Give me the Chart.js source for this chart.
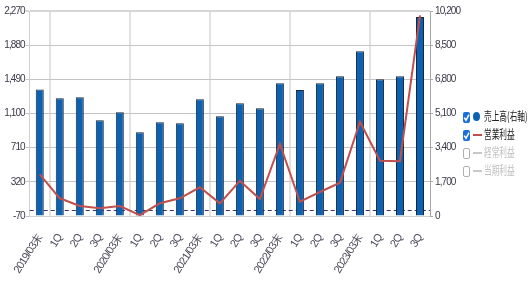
<!DOCTYPE html>
<html>
<head>
<meta charset="utf-8">
<script src="https://cdn.jsdelivr.net/npm/chart.js@4"></script>
<style>
  body { margin: 0; background: #fff; }
  #wrap { position: relative; width: 532px; height: 282px; }
  #legend { position: absolute; left: 463px; top: 111px; font-family: 'Noto Sans CJK JP', sans-serif; }
  .row { position: relative; height: 18px; }
  .box { position: absolute; left: 0; top: 1px; width: 7px; height: 11px; border-radius: 2px; box-sizing: border-box; }
  .on { background: #1a6fd6; }
  .off { border: 1px solid #b0b0b0; background: #fff; }
  .mark { position: absolute; left: 10px; }
  .txt { position: absolute; left: 21px; top: -4px; font-size: 12px; white-space: nowrap; transform: scaleX(0.64); transform-origin: left center; }
</style>
</head>
<body>
<div id="wrap">
  <canvas id="chart" width="532" height="282"></canvas>
  <div id="legend"></div>
</div>
<script>
const categories = ['2019/03末', '1Q', '2Q', '3Q', '2020/03末', '1Q', '2Q', '3Q', '2021/03末', '1Q', '2Q', '3Q',
    '2022/03末', '1Q', '2Q', '3Q', '2023/03末', '1Q', '2Q', '3Q'];
const salesValues = [6300, 5860, 5910, 4760, 5160, 4170, 4660, 4610, 5810, 4960, 5610, 5360,
    6600, 6270, 6600, 6950, 8200, 6800, 6950, 9900];
const opProfitValues = [406, 132, 44, 18, 44, -60, 75, 132, 258, 75, 330, 124,
    752, 93, 204, 310, 1006, 561, 554, 2220];
const leftTicks = [-70, 320, 710, 1100, 1490, 1880, 2270];
const rightTicks = [0, 1700, 3400, 5100, 6800, 8500, 10200];
const legendItems = [
    { label: '売上高(右軸)', on: true, kind: 'dot', color: '#0b62b3' },
    { label: '営業利益', on: true, kind: 'line', color: '#c0504d' },
    { label: '経常利益', on: false, kind: 'line', color: '#c8c8c8' },
    { label: '当期利益', on: false, kind: 'line', color: '#c8c8c8' }
];

const tickFont = { family: "'Liberation Sans', sans-serif", size: 10 };
const catFont = { family: "'Liberation Sans', sans-serif", size: 11 };
const fmt = v => Number(v).toLocaleString('en-US');

// 目盛り文字を詰める（元画像は横に圧縮された文字）
const narrowText = {
    id: 'narrowText',
    beforeUpdate(chart) { chart.ctx.letterSpacing = '-0.9px'; },
    beforeDraw(chart) { chart.ctx.letterSpacing = '-0.9px'; }
};

// ゼロ位置の破線（左軸）
const zeroLine = {
    id: 'zeroLine',
    beforeDatasetsDraw(chart) {
        const { ctx, chartArea, scales: { y } } = chart;
        const py = Math.round(y.getPixelForValue(0)) + 0.5;
        ctx.save();
        ctx.strokeStyle = '#3b2f66';
        ctx.lineWidth = 1;
        ctx.setLineDash([4, 3]);
        ctx.beginPath();
        ctx.moveTo(chartArea.left, py);
        ctx.lineTo(chartArea.right, py);
        ctx.stroke();
        ctx.restore();
    }
};

new Chart(document.getElementById('chart'), {
    data: {
        labels: categories,
        datasets: [
            {
                type: 'line',
                label: '営業利益',
                data: opProfitValues,
                yAxisID: 'y',
                borderColor: '#c0504d',
                borderWidth: 2,
                pointRadius: 0,
                tension: 0,
                order: 0
            },
            {
                type: 'bar',
                label: '売上高(右軸)',
                data: salesValues,
                yAxisID: 'y1',
                backgroundColor: '#0b62b3',
                borderColor: '#1b2633',
                borderWidth: 1,
                barPercentage: 0.4,
                categoryPercentage: 1,
                order: 1
            }
        ]
    },
    options: {
        responsive: false,
        animation: false,
        layout: { padding: { left: 0, right: 70, top: 11, bottom: 0 } },
        plugins: { legend: { display: false }, tooltip: { enabled: false } },
        scales: {
            x: {
                offset: true,
                grid: {
                    offset: true,
                    drawTicks: false,
                    lineWidth: 2,
                    color: c => (c.index % 4 === 1 ? '#e2e2e2' : 'transparent')
                },
                border: { color: '#d0d0d0' },
                ticks: { font: catFont, color: '#4a4a58', minRotation: 58, maxRotation: 58, autoSkip: false, padding: 16 },
                afterFit: s => { s.height = 66; }
            },
            y: {
                position: 'left',
                min: -70,
                max: 2270,
                afterBuildTicks: s => { s.ticks = leftTicks.map(v => ({ value: v })); },
                grid: {
                    color: c => (c.tick && c.tick.value === 2270 ? '#d6d6d6' : '#c4c4c4'),
                    lineWidth: c => (c.tick && c.tick.value === 2270 ? 2 : 1),
                    tickLength: 4
                },
                border: { color: '#d0d0d0' },
                ticks: { font: tickFont, color: '#3a3a48', padding: 1, callback: fmt },
                afterFit: s => { s.width = 27; }
            },
            y1: {
                position: 'right',
                min: 0,
                max: 10200,
                afterBuildTicks: s => { s.ticks = rightTicks.map(v => ({ value: v })); },
                grid: { drawOnChartArea: false, color: '#a8a8a8', tickLength: 3 },
                border: { color: '#a8a8a8' },
                ticks: { font: tickFont, color: '#3a3a48', padding: 2, callback: fmt },
                afterFit: s => { s.width = 32; }
            }
        }
    },
    plugins: [narrowText, zeroLine]
});

// 凡例（チェックボックス付き）
const legendDiv = document.getElementById('legend');
legendDiv.innerHTML = legendItems.map(it => {
    const box = it.on
        ? `<span class="box on"><svg width="7" height="11" style="position:absolute;left:0;top:0"><path d="M1.2 5.6 L3 8.2 L6 2.6" stroke="#fff" stroke-width="1.5" fill="none"/></svg></span>`
        : `<span class="box off"></span>`;
    const mark = it.kind === 'dot'
        ? `<span class="mark" style="top:1px;width:7px;height:9px;border-radius:50%;background:${it.color}"></span>`
        : `<span class="mark" style="top:5px;width:9px;height:2px;background:${it.color}"></span>`;
    const txtColor = it.on ? '#222' : '#c0c0c0';
    return `<div class="row">${box}${mark}<span class="txt" style="color:${txtColor}">${it.label}</span></div>`;
}).join('');
</script>
</body>
</html>
